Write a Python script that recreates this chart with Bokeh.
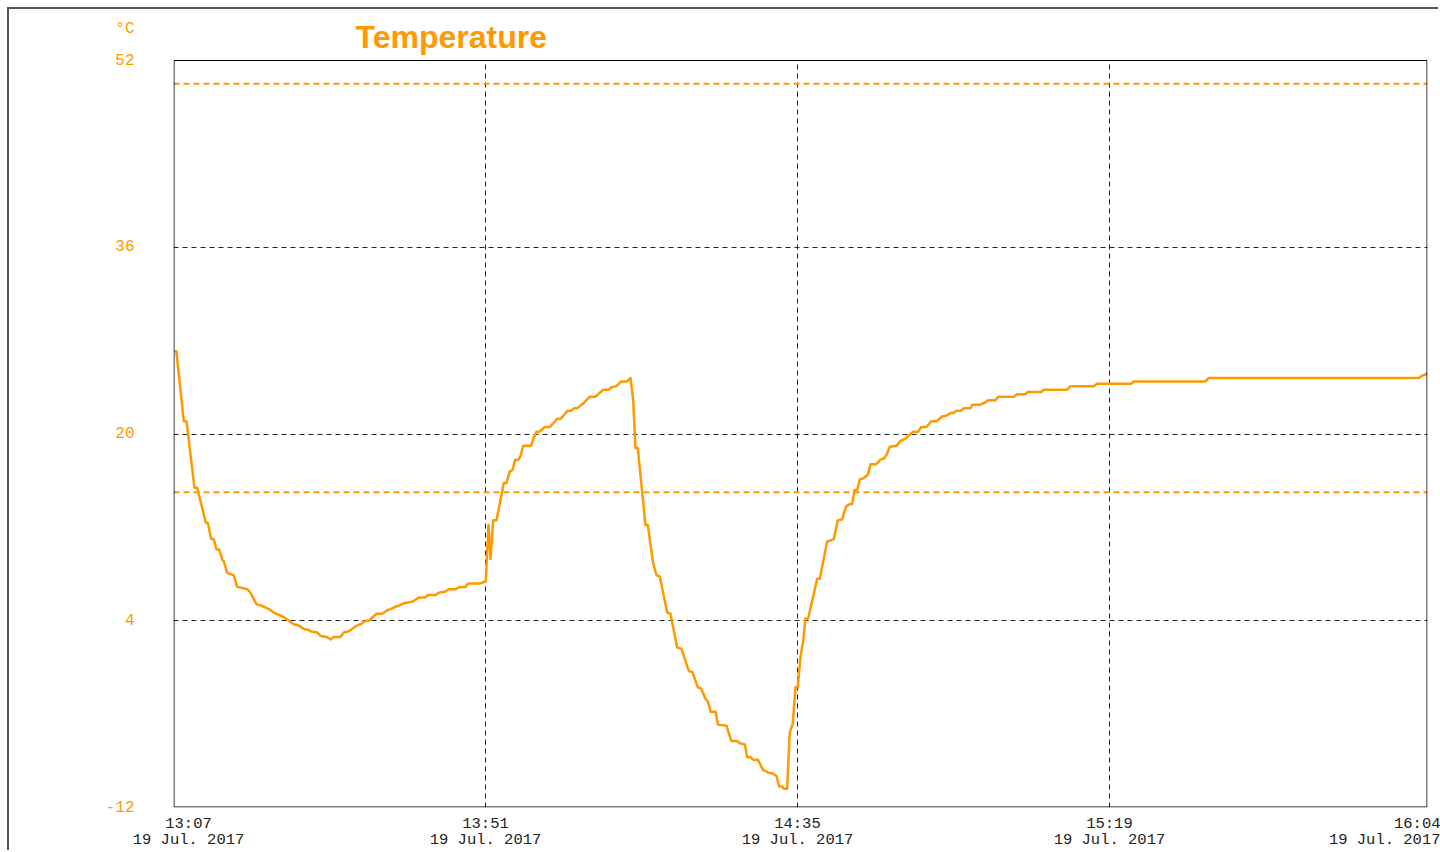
import pandas as pd
from bokeh.plotting import figure
from bokeh.models import (Range1d, FixedTicker, CustomJSTickFormatter, Span, Label,
                          BoxAnnotation, DatetimeAxis)
from bokeh.embed import file_html
from bokeh.resources import INLINE

# ---------------- data ----------------
start_time = "2017-07-19 13:07:00"
end_minutes = 176.85          # visible span of the time axis, in minutes after start

minutes = [0.1, 0.4, 1.45, 1.83, 2.96, 3.34, 4.56, 4.84, 5.32, 5.68,
           6.06, 6.45, 6.91, 7.09, 7.57, 8.04, 8.50, 8.98, 9.69, 10.39,
           10.86, 11.71, 12.37, 12.74, 13.44, 14.15, 14.85, 15.56, 16.26, 16.97,
           17.67, 18.38, 19.08, 19.32, 20.27, 20.73, 21.67, 22.14, 22.61, 23.55,
           24.02, 24.72, 25.43, 25.91, 26.37, 27.08, 27.54, 28.63, 29.43, 30.14,
           30.60, 31.31, 31.77, 32.48, 33.42, 33.89, 34.59, 35.54, 35.86, 36.95,
           37.42, 38.36, 38.82, 39.77, 40.38, 41.18, 41.56, 43.29, 44.04, 44.42,
           44.71, 45.08, 45.55, 46.58, 46.96, 47.43, 47.81, 48.19, 48.65, 48.94,
           49.32, 50.44, 50.82, 51.19, 51.66, 52.32, 53.07, 54.11, 54.58, 55.61,
           56.08, 56.45, 56.93, 57.49, 57.77, 58.71, 59.51, 60.60, 61.39, 61.77,
           62.47, 63.13, 63.98, 64.45, 64.83, 65.15, 65.48, 66.56, 66.89, 67.65,
           68.12, 68.58, 69.63, 70.09, 71.03, 71.64, 72.67, 73.19, 73.94, 74.42,
           75.03, 75.36, 75.74, 76.45, 76.77, 77.99, 78.66, 79.50, 79.87, 80.58,
           80.91, 81.38, 81.76, 82.41, 83.16, 83.63, 83.81, 84.57, 85.04, 85.42,
           85.84, 86.07, 86.54, 86.91, 87.33, 87.72, 88.04, 88.42, 88.81, 89.13,
           89.51, 90.78, 91.15, 92.19, 92.76, 93.13, 93.69, 94.31, 94.87, 95.38,
           95.72, 96.04, 96.42, 96.79, 97.27, 97.92, 98.30, 99.05, 99.71, 100.17,
           100.55, 101.02, 101.97, 102.53, 103.24, 103.94, 104.32, 105.02, 105.45, 106.20,
           106.86, 107.61, 108.41, 109.12, 109.58, 110.05, 110.43, 111.09, 111.46, 112.40,
           112.64, 113.71, 114.05, 114.51, 114.89, 115.92, 116.30, 118.51, 118.98, 120.15,
           120.48, 122.37, 122.74, 126.04, 126.50, 129.79, 130.27, 135.06, 135.43, 145.54,
           146.01, 175.63, 176.10, 176.57, 176.81]

temperature = [27.1, 27.1, 21.1, 21.1, 15.4, 15.4, 12.4, 12.4, 11.0, 11.0,
               10.1, 10.1, 9.2, 9.1, 8.1, 8.0, 7.9, 6.9, 6.8, 6.7,
               6.4, 5.4, 5.3, 5.2, 5.0, 4.7, 4.5, 4.3, 4.0, 3.7,
               3.6, 3.3, 3.2, 3.1, 3.0, 2.7, 2.6, 2.4, 2.6, 2.6,
               3.0, 3.1, 3.4, 3.6, 3.7, 4.0, 4.0, 4.6, 4.6, 4.9,
               5.0, 5.2, 5.3, 5.5, 5.6, 5.7, 6.0, 6.0, 6.2, 6.2,
               6.4, 6.5, 6.7, 6.7, 6.9, 6.9, 7.2, 7.2, 7.4, 12.2,
               9.3, 12.6, 12.6, 15.8, 15.8, 16.8, 16.9, 17.8, 17.8, 18.1,
               19.0, 19.0, 19.7, 20.2, 20.2, 20.6, 20.6, 21.3, 21.3, 22.0,
               22.0, 22.2, 22.2, 22.5, 22.6, 23.2, 23.2, 23.8, 23.8, 24.0,
               24.1, 24.5, 24.5, 24.8, 22.9, 18.8, 18.8, 12.2, 12.2, 8.9,
               7.9, 7.8, 4.7, 4.6, 1.7, 1.6, -0.3, -0.4, -1.7, -1.8,
               -2.7, -2.9, -3.8, -3.8, -4.9, -5.0, -6.3, -6.3, -6.5, -6.6,
               -7.7, -7.7, -7.9, -7.9, -8.8, -8.9, -9.0, -9.1, -9.3, -10.2,
               -10.2, -10.4, -10.4, -5.6, -4.8, -1.7, -1.7, 0.9, 2.3, 4.2,
               4.2, 7.6, 7.6, 10.8, 10.9, 11.0, 12.6, 12.7, 13.8, 14.0,
               14.0, 15.2, 15.2, 16.1, 16.2, 16.5, 17.4, 17.4, 17.8, 17.9,
               18.2, 18.9, 19.0, 19.4, 19.6, 20.0, 20.2, 20.2, 20.6, 20.6,
               21.1, 21.1, 21.5, 21.6, 21.8, 21.8, 22.0, 22.0, 22.2, 22.2,
               22.5, 22.5, 22.6, 22.7, 22.9, 22.9, 23.2, 23.2, 23.4, 23.4,
               23.6, 23.6, 23.8, 23.8, 24.1, 24.1, 24.3, 24.3, 24.5, 24.5,
               24.8, 24.8, 25.0, 25.1, 25.2]

y_ticks = [-12, 4, 20, 36, 52]
y_tick_labels = ["-12", "4", "20", "36", "52"]
x_tick_minutes = [0, 44, 88, 132, 176]
x_tick_times = ["13:07", "13:51", "14:35", "15:19", "16:04"]
x_tick_date = "19 Jul. 2017"
limit_values = [50, 15]
y_unit = "°C"
title_text = "Temperature"

# ---------------- styling / geometry ----------------
ORANGE = "#ff9900"
OFFSET = 9                        # figure placed 9px from page corner (outer border)
CANVAS_W, CANVAS_H = 1440 - OFFSET, 852 - OFFSET
BOX_LEFT, BOX_RIGHT = 173 - OFFSET, 1427 - OFFSET   # plot box in canvas px
BOX_TOP, BOX_BOTTOM = 60 - OFFSET, 807 - OFFSET
BOX_W, BOX_H = BOX_RIGHT - BOX_LEFT, BOX_BOTTOM - BOX_TOP
PX_PER_MIN = BOX_W / end_minutes
PX_PER_DEG = BOX_H / (y_ticks[-1] - y_ticks[0])

t0_ms = pd.Timestamp(start_time).value / 1e6
MIN_MS = 60_000.0


def to_ms(m):
    return t0_ms + m * MIN_MS


def px_to_deg(dpx):
    return dpx / PX_PER_DEG


xs = [to_ms(m) for m in minutes]

p = figure(width=CANVAS_W, height=CANVAS_H, x_axis_type="datetime",
           output_backend="svg", toolbar_location=None,
           min_border_left=BOX_LEFT, min_border_right=CANVAS_W - BOX_RIGHT,
           min_border_top=0, min_border_bottom=CANVAS_H - BOX_BOTTOM,
           background_fill_color="white", border_fill_color="white")
p.styles = {"margin-left": f"{OFFSET}px", "margin-top": f"{OFFSET}px",
            "box-shadow": "-2px -2px 0 0 #555555"}
p.outline_line_color = None
p.x_range = Range1d(to_ms(0), to_ms(end_minutes))
# frame extends up to the canvas top: header area lives inside the frame
p.y_range = Range1d(y_ticks[0], y_ticks[-1] + px_to_deg(BOX_TOP))

# ---- x axes: time line + date line ----
label_pos = list(x_tick_minutes)
label_pos[0] = x_tick_minutes[0] + 15 / PX_PER_MIN
label_pos[-1] = end_minutes - 42.5 / PX_PER_MIN
tick_ms = [to_ms(m) for m in label_pos]
time_labels = list(x_tick_times)
time_labels[-1] = "\u00a0" * (len(x_tick_date) - len(x_tick_times[-1])) + x_tick_times[-1]
date_labels = [x_tick_date] * len(x_tick_times)


def style_x_axis(ax, labels, standoff):
    ax.ticker = FixedTicker(ticks=tick_ms)
    ax.formatter = CustomJSTickFormatter(args=dict(labels=labels), code="return labels[index];")
    ax.axis_line_color = None
    ax.major_tick_line_color = None
    ax.minor_tick_line_color = None
    ax.major_tick_out = 0
    ax.major_tick_in = 0
    ax.major_label_standoff = standoff
    ax.major_label_text_font = "Liberation Mono"
    ax.major_label_text_font_size = "15.5px"
    ax.major_label_text_color = "#222222"


style_x_axis(p.xaxis[0], time_labels, 7)
date_axis = DatetimeAxis()
style_x_axis(date_axis, date_labels, -5)
p.add_layout(date_axis, "below")

# ---- y axis (unit shown as an extra label above the top tick) ----
unit_pos = y_ticks[-1] + px_to_deg(31.5)
ya = p.yaxis[0]
ya.ticker = FixedTicker(ticks=y_ticks + [unit_pos])
ya.formatter = CustomJSTickFormatter(args=dict(labels=y_tick_labels + [y_unit]),
                                     code="return labels[index];")
ya.axis_line_color = None
ya.major_tick_line_color = None
ya.minor_tick_line_color = None
ya.major_tick_out = 0
ya.major_tick_in = 0
ya.major_label_standoff = 39
ya.major_label_text_font = "Liberation Mono"
ya.major_label_text_font_size = "16px"
ya.major_label_text_color = ORANGE

# ---- grids ----
p.xgrid.ticker = FixedTicker(ticks=[to_ms(m) for m in x_tick_minutes[1:-1]])
p.ygrid.ticker = FixedTicker(ticks=y_ticks[1:-1])
for g in (p.xgrid[0], p.ygrid[0]):
    g.grid_line_color = "#222222"
    g.grid_line_dash = "5 4"
    g.grid_line_width = 1

# ---- limit lines ----
for v in limit_values:
    p.add_layout(Span(location=v, dimension="width", line_color=ORANGE,
                      line_dash="6 4", line_width=2))

# ---- series ----
p.line(xs, temperature, line_color=ORANGE, line_width=2.5, line_join="round")

# ---- header area cover + plot box ----
p.add_layout(BoxAnnotation(bottom=y_ticks[-1], fill_color="white", fill_alpha=1,
                           line_color=None))
half_min = 0.5 / PX_PER_MIN
p.add_layout(BoxAnnotation(left=to_ms(half_min), right=to_ms(end_minutes - half_min),
                           bottom=y_ticks[0] + px_to_deg(0.5), top=y_ticks[-1],
                           fill_alpha=0, fill_color=None,
                           line_color="black", line_alpha=1, line_width=1))

# ---- title ----
p.add_layout(Label(x=to_ms(182 / PX_PER_MIN), y=y_ticks[-1] + px_to_deg(24),
                   text=title_text, text_align="left", text_baseline="alphabetic",
                   text_font="Liberation Sans", text_font_style="bold",
                   text_font_size="32px", text_color=ORANGE))

open("out.html", "w").write(file_html(p, INLINE))
